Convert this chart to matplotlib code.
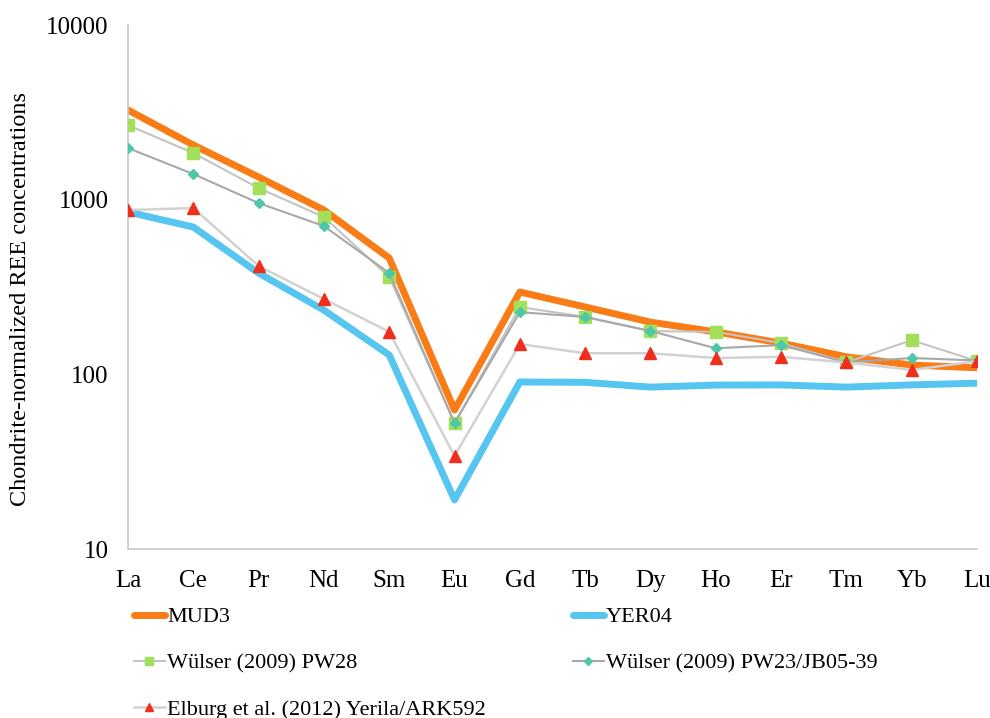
import matplotlib.pyplot as plt
from matplotlib.ticker import FixedLocator, NullLocator

plt.rcParams['font.family'] = ['Liberation Serif', 'DejaVu Serif']

ree = ["La", "Ce", "Pr", "Nd", "Sm", "Eu", "Gd", "Tb", "Dy", "Ho", "Er", "Tm", "Yb", "Lu"]

mud3 = [3260, 2055, 1347, 872, 463, 62.5, 296, 243, 199, 175, 151, 126, 113, 109]
yer04 = [850, 697, 380, 233, 129, 19.1, 90.4, 90, 84.5, 86.8, 87, 84.5, 87, 89]
pw28 = [2673, 1849, 1165, 795, 361, 52.6, 243, 213, 177, 175, 151, 117, 157, 119]
pw23 = [1974, 1402, 956, 706, 380, 52.6, 227, 213, 177, 141, 147, 117, 124, 120]
elburg = [872, 895, 417, 270, 175, 34.1, 149, 132, 132, 124, 126, 117, 106, 119]

fig = plt.figure(figsize=(9.9, 7.18), dpi=100)
ax = fig.add_axes([128/990, 1 - 549/718, (977 - 128)/990, (549 - 25)/718])

x = range(len(ree))
l1, = ax.plot(x, mud3, color='#F97C16', lw=5, solid_capstyle='round', label='MUD3', zorder=2)
l2, = ax.plot(x, yer04, color='#56C5F0', lw=5, solid_capstyle='round', label='YER04', zorder=2)
l3, = ax.plot(x, pw28, color='#c4c4c4', lw=1.5, marker='s', ms=8, mfc='#A2E05A', mec='#A2E05A',
              label='Wülser (2009) PW28', zorder=3)
l4, = ax.plot(x, pw23, color='#a8a8a8', lw=1.5, marker='D', ms=5.5, mfc='#4CC8A8', mec='#4CC8A8',
              label='Wülser (2009) PW23/JB05-39', zorder=4)
l5, = ax.plot(x, elburg, color='#d2d2d2', lw=1.8, marker='^', ms=8, mfc='#F02E1C', mec='#F02E1C',
              label='Elburg et al. (2012) Yerila/ARK592', zorder=5)

ax.set_yscale('log')
ax.set_ylim(10, 10000)
ax.set_xlim(0, len(ree) - 1)
ax.yaxis.set_major_locator(FixedLocator([10, 100, 1000, 10000]))
ax.yaxis.set_minor_locator(NullLocator())
ax.set_yticklabels(["10", "100", "1000", "10000"])
ax.set_xticks(list(x))
ax.set_xticklabels(ree)
ax.tick_params(axis='both', length=0, labelsize=18, colors='black')
ax.tick_params(axis='y', pad=14)
ax.tick_params(axis='x', pad=15)

for s in ['top', 'right']:
    ax.spines[s].set_visible(False)
for s in ['left', 'bottom']:
    ax.spines[s].set_color('#c8c8c8')
    ax.spines[s].set_linewidth(1.2)

ax.set_ylabel('Chondrite-normalized REE concentrations', fontsize=17.5)
ax.yaxis.set_label_coords(-0.114, 0.478)

fig.legend([l1, l3, l5, l2, l4],
           [l1.get_label(), l3.get_label(), l5.get_label(), l2.get_label(), l4.get_label()],
           ncol=2, loc='upper left', bbox_to_anchor=(125/990, 1 - 598/718),
           frameon=False, fontsize=16, handlelength=1.4, handletextpad=0.1,
           labelspacing=1.15, columnspacing=3.9, borderaxespad=0, markerscale=0.8)

fig.savefig('out.png', dpi=100)
